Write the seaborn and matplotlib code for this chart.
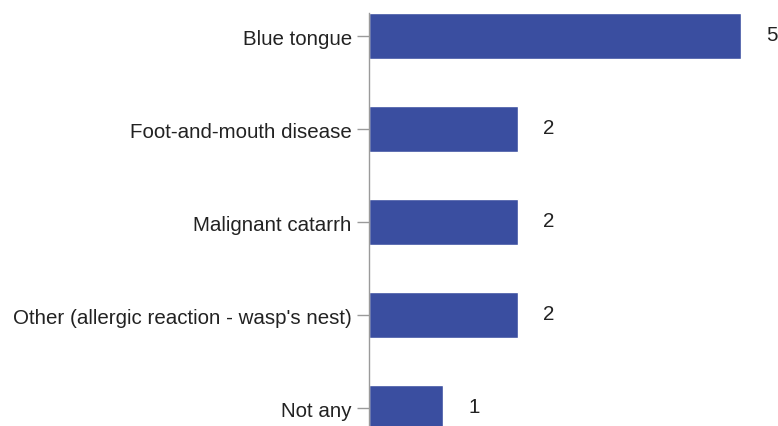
import matplotlib
matplotlib.use("Agg")
import matplotlib.pyplot as plt
import seaborn as sns
import pandas as pd

categories = [
    "Blue tongue",
    "Foot-and-mouth disease",
    "Malignant catarrh",
    "Other (allergic reaction - wasp's nest)",
    "Not any",
]
counts = [5, 2, 2, 2, 1]

sns.set_theme(style="white")
plt.rcParams["font.family"] = ["Liberation Sans", "DejaVu Sans"]

df = pd.DataFrame({"disease": categories, "count": counts})

fig = plt.figure(figsize=(7.78, 4.27), dpi=100)
ax = fig.add_axes([369 / 778, 0.0, (741 - 369) / 778, (427 - 14) / 427])

sns.barplot(data=df, y="disease", x="count", orient="h", color="#3A4EA0",
            saturation=1, width=0.5, ax=ax)

ax.set_xlim(0, 5)
ax.set_ylim((427 - 37) / 93.0, -0.25)

for i, v in enumerate(counts):
    ax.annotate(str(v), xy=(v, i), xytext=(18, 1), textcoords="offset points",
                va="center", ha="left", fontsize=14.8, color="#222222",
                annotation_clip=False)

for side in ["top", "right", "bottom"]:
    ax.spines[side].set_visible(False)
ax.spines["left"].set_color("#9a9a9a")
ax.spines["left"].set_linewidth(1.0)

ax.set_xticks([])
ax.tick_params(axis="y", length=8.5, width=1.0, color="#9a9a9a", pad=4,
               labelsize=14.8, labelcolor="#222222", left=True)
for lbl in ax.get_yticklabels():
    lbl.set_y(lbl.get_position()[1])
ax.set_xlabel("")
ax.set_ylabel("")

fig.savefig("out.png", dpi=100)
